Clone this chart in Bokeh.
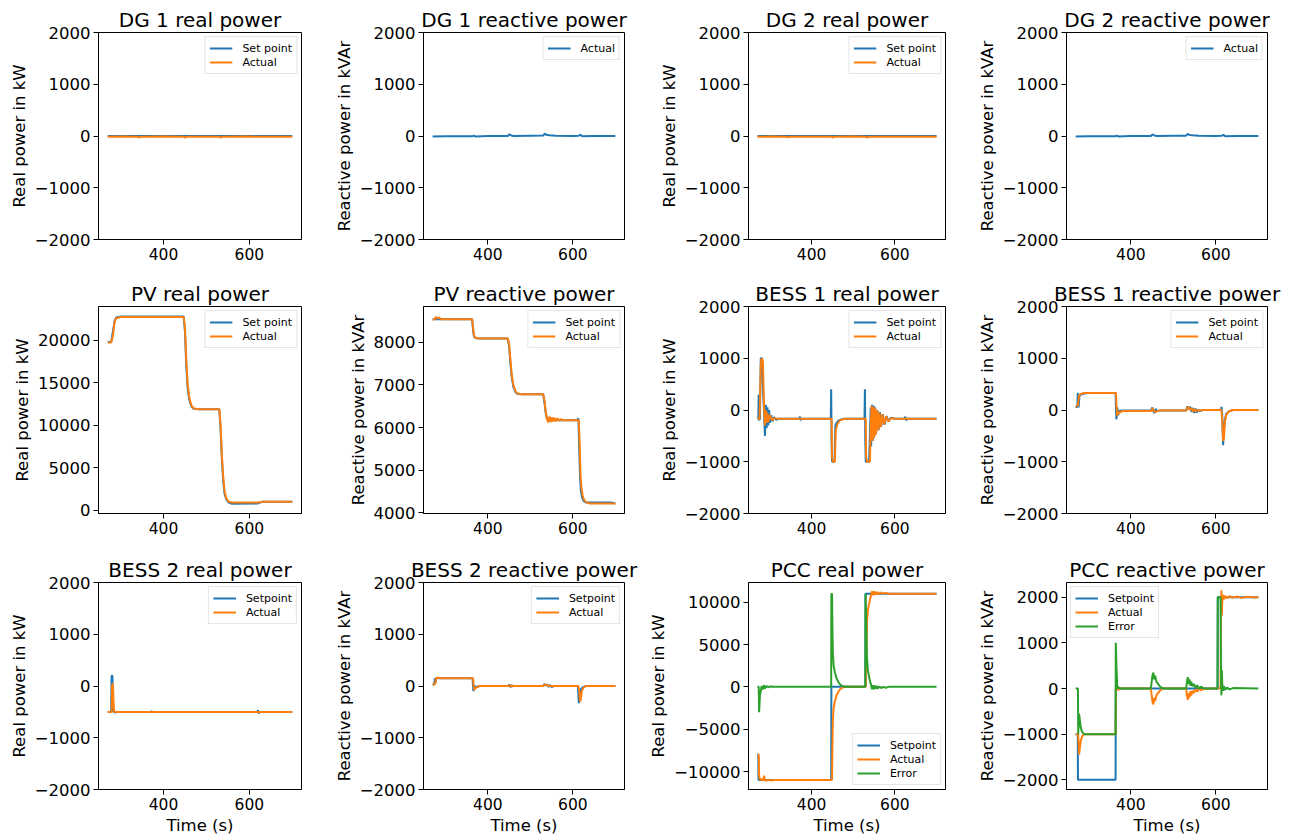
from bokeh.plotting import figure
from bokeh.layouts import gridplot
from bokeh.models import Range1d, FixedTicker
from bokeh.embed import file_html
from bokeh.resources import INLINE

BLUE = "#1f77b4"
ORANGE = "#ff7f0e"
GREEN = "#2ca02c"
FONT = "DejaVu Sans"

# ---------------- data ----------------
# DG 1 real power
dg1_p_set_t = [270, 700]
dg1_p_set = [0, 0]
dg1_p_act_t = [270, 300, 340, 344, 348, 400, 447, 450, 454, 500, 530, 533, 537, 600, 650, 700]
dg1_p_act = [-15, -12, -15, -28, -14, -12, -14, -30, -15, -13, -14, -32, -16, -12, -14, -15]

# DG 1 reactive power (actual only)
dg1_q_t = [270, 300, 364, 367, 371, 400, 447, 451, 455, 460, 500, 530, 534, 538, 545, 560, 600, 614, 618, 622, 650, 700]
dg1_q_act = [-10, -5, -5, 10, -12, 0, 0, 35, 10, 0, 5, 8, 45, 22, 15, 5, 0, 5, 25, -6, 0, 0]

# DG 2 real power
dg2_p_set_t = [270, 700]
dg2_p_set = [0, 0]
dg2_p_act_t = [270, 300, 340, 344, 348, 400, 447, 450, 454, 500, 530, 533, 537, 600, 650, 700]
dg2_p_act = [-14, -12, -14, -26, -14, -13, -14, -28, -15, -12, -14, -30, -15, -13, -14, -14]

# DG 2 reactive power (actual only)
dg2_q_t = [270, 300, 364, 367, 371, 400, 447, 451, 455, 460, 500, 530, 534, 538, 545, 560, 600, 614, 618, 622, 650, 700]
dg2_q_act = [-12, -5, -4, 8, -10, 0, 0, 32, 12, 0, 4, 6, 42, 20, 14, 4, 0, 6, 22, -5, 0, 0]

# PV real power
pv_p_t = [270, 278, 282, 286, 290, 300, 447, 450, 453, 456, 460, 465, 470, 480,
          530, 533, 536, 539, 542, 546, 552, 560, 620, 630, 700]
pv_p_set = [19800, 19800, 21000, 22300, 22700, 22800, 22800, 21000, 17000, 14500, 13000, 12200, 11950, 11900,
            11900, 9500, 6000, 3500, 2000, 1300, 900, 750, 800, 1000, 1000]
pv_p_act = [19750, 19750, 20500, 22200, 22600, 22750, 22750, 21500, 17800, 15000, 13300, 12300, 12000, 11900,
            11900, 10000, 6500, 4000, 2300, 1400, 1000, 900, 900, 1000, 1000]

# PV reactive power
pv_q_set_t = [270, 363, 365, 367, 370, 380, 447, 450, 453, 456, 460, 465, 470, 480,
              530, 533, 536, 539, 545, 575, 610, 613, 615, 617, 619, 622, 626, 632, 640, 650, 690, 700]
pv_q_set = [8540, 8540, 8300, 8150, 8100, 8090, 8090, 7900, 7500, 7200, 6950, 6830, 6790, 6780,
            6780, 6600, 6350, 6220, 6180, 6170, 6170, 6220, 5500, 4800, 4500, 4350, 4270, 4240, 4240, 4240, 4240, 4220]
pv_q_act_t = [270, 275, 278, 281, 285, 290, 363, 365, 367, 370, 380, 447, 450, 453, 456, 460, 465, 470, 480,
              530, 533, 536, 539, 542, 545, 548, 551, 554, 557, 560, 564, 568, 572, 576, 582, 614,
              616, 618, 620, 623, 627, 633, 640, 700]
pv_q_act = [8530, 8540, 8600, 8560, 8580, 8540, 8540, 8350, 8180, 8110, 8090, 8090, 7950, 7600, 7250, 7000, 6850, 6800, 6780,
            6780, 6650, 6400, 6200, 6120, 6260, 6130, 6240, 6140, 6230, 6150, 6220, 6160, 6200, 6170, 6170, 6170,
            5600, 4900, 4600, 4400, 4290, 4240, 4220, 4220]

# BESS 1 real power
b1_p_set_t = [270, 272, 273, 274, 276, 278, 281, 284, 286, 288, 290, 292, 294, 296, 298, 300, 303, 306, 310, 315, 320,
              370, 372, 374, 376, 446, 447, 448, 449, 455, 457, 460, 465, 475, 480,
              527, 528, 529, 530, 538, 540, 542, 543, 545, 547, 549, 551, 553, 555, 558, 561, 564, 567, 571, 575,
              580, 585, 590, 600, 622, 625, 627, 630, 700]
b1_p_set = [-170, -170, 300, -200, -170, 1000, 1000, 300, -100, -500, 100, -350, 50, -300, 0, -250, -100, -220, -140, -190, -170,
            -170, -130, -200, -170, -170, 400, -600, -1000, -1000, -300, -250, -200, -175, -170,
            -170, 400, -600, -1000, -1000, -500, 50, -700, 100, -600, 80, -500, 50, -450, 0, -380, -40, -320, -80, -280,
            -120, -220, -150, -170, -170, -130, -200, -170, -170]
b1_p_act_t = [270, 275, 278, 280, 283, 286, 288, 290, 292, 294, 296, 300, 305, 310, 320,
              448, 449, 451, 456, 458, 462, 468, 478, 485,
              530, 531, 533, 540, 542, 544, 546, 548, 550, 552, 554, 557, 560, 563, 566, 570, 574, 579, 584, 590, 600, 700]
b1_p_act = [-170, -170, 900, 1000, 950, 0, -300, 0, -250, -50, -230, -100, -200, -160, -170,
            -170, -900, -1000, -1000, -400, -270, -200, -175, -170,
            -170, -900, -1000, -1000, -300, 80, -600, 60, -550, 40, -480, 0, -400, -50, -330, -80, -280, -120, -220, -160, -170, -170]

# BESS 1 reactive power
b1_q_set_t = [270, 274, 275, 277, 279, 283, 290, 300, 364, 365, 366, 368, 370, 372, 380,
              448, 450, 452, 455, 458, 462, 470, 530, 533, 536, 540, 543, 546, 549, 552, 555, 558, 562, 570,
              612, 613, 615, 617, 619, 621, 624, 630, 640, 700]
b1_q_set = [60, 60, 330, 50, 280, 300, 320, 330, 330, 0, -180, 50, -100, -20, -10,
            -10, 50, 0, -60, 20, -20, -10, -10, 70, 20, 60, -40, 40, -60, 30, -50, 10, -20, 0,
            0, 60, -100, -680, -400, -200, -80, -30, 0, 0]
b1_q_act_t = [270, 275, 278, 282, 290, 365, 366, 368, 370, 373, 380,
              448, 451, 454, 457, 462, 470, 531, 534, 537, 540, 543, 546, 549, 552, 556, 562, 570,
              613, 615, 617, 619, 621, 624, 630, 640, 700]
b1_q_act = [70, 80, 280, 310, 330, 330, 100, -120, -30, -50, -20,
            -20, 40, -20, -40, -20, -10, -10, 60, 40, 0, 40, -30, 20, -30, 0, -10, 0,
            0, -200, -600, -550, -250, -100, -30, 0, 0]

# BESS 2 real power
b2_p_set_t = [270, 278, 279, 281, 282, 285, 288, 290, 370, 372, 374, 618, 620, 622, 624, 700]
b2_p_set = [-500, -500, 200, 200, -500, -480, -520, -500, -500, -490, -500, -500, -470, -530, -500, -500]
b2_p_act_t = [270, 279, 280, 282, 284, 285, 370, 620, 622, 624, 700]
b2_p_act = [-500, -500, 0, 50, -400, -500, -500, -500, -520, -500, -500]

# BESS 2 reactive power
b2_q_set_t = [270, 274, 275, 277, 279, 285, 364, 365, 366, 368, 370, 380,
              448, 450, 453, 456, 460, 530, 533, 537, 540, 543, 546, 550, 555,
              610, 612, 614, 616, 618, 622, 630, 700]
b2_q_set = [30, 30, 150, 60, 160, 150, 150, 0, -100, 20, -30, 0,
            0, 30, -20, 10, 0, 0, 40, 10, 30, -20, 20, -20, 0,
            0, -20, -330, -200, -80, -30, 0, 0]
b2_q_act_t = [270, 276, 278, 282, 290, 365, 366, 368, 370, 380, 449, 452, 455, 460,
              531, 534, 538, 542, 546, 550, 555, 613, 615, 617, 619, 621, 625, 630, 700]
b2_q_act = [30, 40, 150, 160, 150, 150, 50, -80, -40, 0, 0, 20, -10, 0,
            0, 30, 20, 0, 10, -10, 0, 0, -100, -300, -250, -100, -30, 0, 0]

# PCC real power
pcc_p_set_t = [270, 272, 272.5, 447, 447.5, 529, 529.5, 700]
pcc_p_set = [-8000, -8000, -11000, -11000, 0, 0, 11000, 11000]
pcc_p_act_t = [270, 273, 274, 276, 280, 283, 286, 288, 292, 296, 300, 310, 449, 450, 451, 453, 456, 460, 465, 470, 478,
               530, 531, 533, 535, 538, 541, 543, 545, 547, 549, 551, 553, 556, 559, 563, 567, 572, 578, 585, 700]
pcc_p_act = [-8000, -8000, -10500, -11000, -10900, -11100, -10500, -11000, -11100, -10950, -11050, -11000,
             -11000, -7000, -4000, -2500, -1700, -1000, -500, -200, 0,
             0, 3000, 7500, 9000, 9800, 10500, 10800, 11300, 10800, 11300, 10850, 11250, 10900, 11200, 10950, 11150,
             11000, 11100, 11000, 11000]
pcc_p_err_t = [270, 273, 274, 276, 278, 280, 283, 286, 288, 292, 296, 300, 310, 447, 447.5, 449, 450, 451, 453, 456,
               460, 465, 470, 478, 529, 529.5, 531, 533, 535, 538, 541, 543, 545, 547, 549, 551, 553, 556, 559, 563,
               567, 572, 578, 585, 700]
pcc_p_err = [0, 0, -3000, -1000, -500, 100, -300, 200, -200, 100, -50, 50, 0, 0, 11000, 11000, 7000, 4000, 2500, 1700,
             1000, 500, 200, 0, 0, 11000, 8000, 3500, 2000, 1200, 500, 200, -300, 200, -300, 150, -250, 100, -200, 50,
             -150, 0, -100, 0, 0]

# PCC reactive power
pcc_q_set_t = [270, 275, 275.5, 364, 364.5, 604, 604.5, 700]
pcc_q_set = [-1000, -1000, -2000, -2000, 0, 0, 2000, 2000]
pcc_q_act_t = [270, 276, 277, 278, 280, 282, 285, 290, 364, 365, 367, 370, 375,
               447, 449, 451, 453, 455, 457, 460, 464, 468, 475,
               530, 532, 534, 536, 538, 540, 542, 545, 548, 552, 556, 560, 565, 572, 580, 590,
               611, 612, 613, 614, 615, 617, 619, 622, 626, 632, 640, 650, 660, 675, 690, 700]
pcc_q_act = [-1000, -1000, -1200, -1450, -1300, -1150, -1050, -1000, -1000, 0, 50, -30, 0,
             0, -150, -300, -350, -200, -280, -150, -100, -50, 0,
             0, -150, -250, -100, -200, -60, -150, -50, -100, -20, -70, 0, -40, 0, -10, 0,
             0, 1500, 2150, 1600, 1900, 2050, 1950, 2030, 1980, 2020, 1990, 2015, 1985, 2010, 1995, 2000]
pcc_q_err_t = [270, 275.5, 276, 277, 278, 280, 282, 285, 290, 364, 364.5, 366, 368, 370, 375,
               447, 449, 451, 453, 455, 457, 460, 464, 468, 475,
               530, 532, 534, 536, 538, 540, 542, 545, 548, 552, 556, 560, 565, 572,
               604, 604.5, 611, 612, 613, 614, 615, 617, 619, 622, 626, 632, 640, 700]
pcc_q_err = [0, 0, -1000, -800, -550, -700, -850, -950, -1000, -1000, 1000, 500, 0, 30, 0,
             0, 150, 300, 350, 200, 280, 150, 100, 50, 0,
             0, 150, 250, 100, 200, 60, 150, 50, 100, 20, 70, 0, 40, 0,
             0, 2000, 2000, 500, -150, 400, 100, -50, 50, -30, 20, -20, 10, 0]

# axis ticks
X_TICKS = [400, 600]
Y_TICKS_2000 = [-2000, -1000, 0, 1000, 2000]
Y_TICKS_PVP = [0, 5000, 10000, 15000, 20000]
Y_TICKS_PVQ = [4000, 5000, 6000, 7000, 8000]
Y_TICKS_PCCP = [-10000, -5000, 0, 5000, 10000]

# ---------------- layout ----------------
FW, FH = 203, 207
BL = [98, 90, 96, 90]
BR = [30, 22, 29, 20]
BT = [32, 34, 35]
BB = [33, 34, 49]


def minus(v):
    return str(v).replace("-", "\u2212")


def panel(row, col, title, ylabel, yr, yticks, series, loc, xlabel=None):
    bl, br, bt, bb = BL[col], BR[col], BT[row], BB[row]
    p = figure(width=bl + FW + br, height=bt + FH + bb,
               x_range=Range1d(248.5, 721.5), y_range=Range1d(*yr),
               output_backend="svg", toolbar_location=None,
               min_border_left=bl, min_border_right=br,
               min_border_top=bt, min_border_bottom=bb, title=title)
    p.title.text_font = FONT
    p.title.text_font_size = "20px"
    p.title.text_font_style = "normal"
    p.title.align = "center"
    p.title.standoff = 2
    p.title.text_color = "black"
    p.grid.visible = False
    p.outline_line_color = "black"
    p.outline_line_alpha = 1.0
    p.outline_line_width = 1
    p.background_fill_color = "white"
    p.border_fill_color = "white"
    for ax in (p.xaxis[0], p.yaxis[0]):
        ax.axis_line_color = "black"
        ax.major_tick_line_color = "black"
        ax.major_tick_in = 0
        ax.major_tick_out = 5
        ax.minor_tick_line_color = None
        ax.major_label_text_font = FONT
        ax.major_label_text_color = "black"
        ax.major_label_standoff = 3
        ax.axis_label_text_font = FONT
        ax.axis_label_text_font_size = "16.5px"
        ax.axis_label_text_font_style = "normal"
        ax.axis_label_text_color = "black"
        ax.axis_label_standoff = 3
    p.xaxis.major_label_text_font_size = "15.5px"
    p.yaxis.major_label_text_font_size = "16.5px"
    p.xaxis.ticker = FixedTicker(ticks=X_TICKS)
    p.yaxis.ticker = FixedTicker(ticks=yticks)
    p.yaxis.major_label_overrides = {v: minus(v) for v in yticks}
    p.yaxis.axis_label = ylabel
    if xlabel:
        p.xaxis.axis_label = xlabel
    for (t, v, color, label) in series:
        p.line(t, v, line_color=color, line_width=2, legend_label=label)
    lg = p.legend[0]
    lg.location = loc
    lg.label_text_font = FONT
    lg.label_text_font_size = "11px"
    lg.label_text_color = "black"
    lg.label_height = 14
    lg.glyph_height = 14
    lg.glyph_width = 23
    lg.label_standoff = 10
    lg.padding = 4
    lg.spacing = 0
    lg.margin = 4
    lg.border_line_color = "#cccccc"
    lg.border_line_width = 1
    lg.background_fill_alpha = 0.8
    return p


SP = "Set point"
SP2 = "Setpoint"
RL = "Real power in kW"
RQ = "Reactive power in kVAr"
R2 = (-2000, 2000)

p1 = panel(0, 0, "DG 1 real power", RL, R2, Y_TICKS_2000,
           [(dg1_p_set_t, dg1_p_set, BLUE, SP), (dg1_p_act_t, dg1_p_act, ORANGE, "Actual")], "top_right")
p2 = panel(0, 1, "DG 1 reactive power", RQ, R2, Y_TICKS_2000,
           [(dg1_q_t, dg1_q_act, BLUE, "Actual")], "top_right")
p3 = panel(0, 2, "DG 2 real power", RL, R2, Y_TICKS_2000,
           [(dg2_p_set_t, dg2_p_set, BLUE, SP), (dg2_p_act_t, dg2_p_act, ORANGE, "Actual")], "top_right")
p4 = panel(0, 3, "DG 2 reactive power", RQ, R2, Y_TICKS_2000,
           [(dg2_q_t, dg2_q_act, BLUE, "Actual")], "top_right")

p5 = panel(1, 0, "PV real power", RL, (-390, 23984), Y_TICKS_PVP,
           [(pv_p_t, pv_p_set, BLUE, SP), (pv_p_t, pv_p_act, ORANGE, "Actual")], "top_right")
p6 = panel(1, 1, "PV reactive power", RQ, (3984, 8841), Y_TICKS_PVQ,
           [(pv_q_set_t, pv_q_set, BLUE, SP), (pv_q_act_t, pv_q_act, ORANGE, "Actual")], "top_right")
p7 = panel(1, 2, "BESS 1 real power", RL, R2, Y_TICKS_2000,
           [(b1_p_set_t, b1_p_set, BLUE, SP), (b1_p_act_t, b1_p_act, ORANGE, "Actual")], "top_right")
p8 = panel(1, 3, "BESS 1 reactive power", RQ, R2, Y_TICKS_2000,
           [(b1_q_set_t, b1_q_set, BLUE, SP), (b1_q_act_t, b1_q_act, ORANGE, "Actual")], "top_right")

p9 = panel(2, 0, "BESS 2 real power", RL, R2, Y_TICKS_2000,
           [(b2_p_set_t, b2_p_set, BLUE, SP2), (b2_p_act_t, b2_p_act, ORANGE, "Actual")], "top_right", "Time (s)")
p10 = panel(2, 1, "BESS 2 reactive power", RQ, R2, Y_TICKS_2000,
            [(b2_q_set_t, b2_q_set, BLUE, SP2), (b2_q_act_t, b2_q_act, ORANGE, "Actual")], "top_right", "Time (s)")
p11 = panel(2, 2, "PCC real power", RL, (-12126, 12327), Y_TICKS_PCCP,
            [(pcc_p_set_t, pcc_p_set, BLUE, SP2), (pcc_p_act_t, pcc_p_act, ORANGE, "Actual"),
             (pcc_p_err_t, pcc_p_err, GREEN, "Error")], "bottom_right", "Time (s)")
p12 = panel(2, 3, "PCC reactive power", RQ, (-2212, 2322), Y_TICKS_2000,
            [(pcc_q_set_t, pcc_q_set, BLUE, SP2), (pcc_q_act_t, pcc_q_act, ORANGE, "Actual"),
             (pcc_q_err_t, pcc_q_err, GREEN, "Error")], "top_left", "Time (s)")

grid = gridplot([[p1, p2, p3, p4], [p5, p6, p7, p8], [p9, p10, p11, p12]], toolbar_location=None)

open("out.html", "w").write(file_html(grid, INLINE))
